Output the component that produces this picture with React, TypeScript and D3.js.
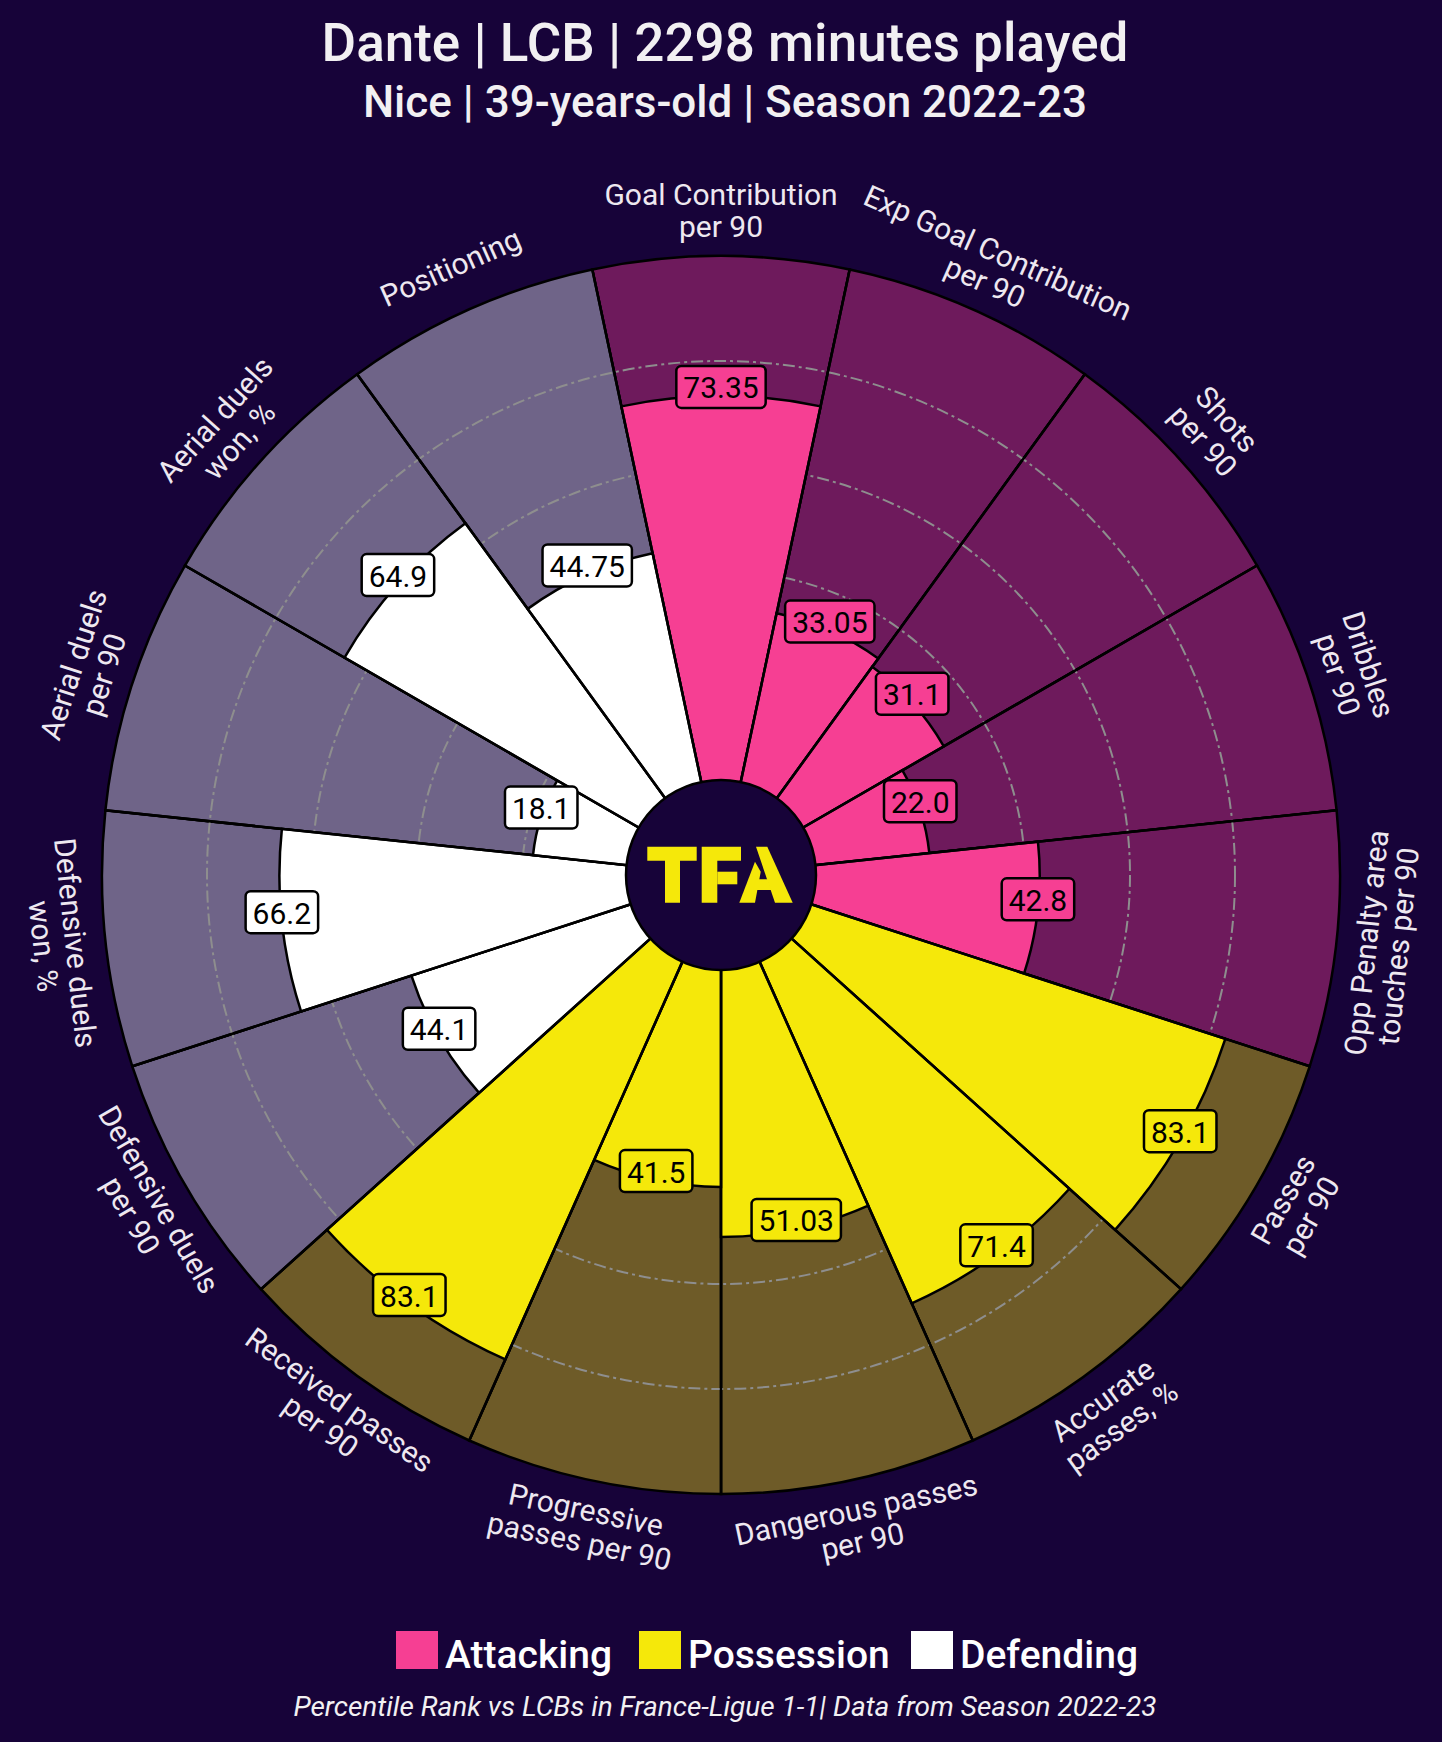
import React from "react";
import * as d3 from "d3";

// ---------- data ----------
const params: string[] = [
  "Goal Contribution\nper 90",
  "Exp Goal Contribution\nper 90",
  "Shots\nper 90",
  "Dribbles\nper 90",
  "Opp Penalty area\ntouches per 90",
  "Passes\nper 90",
  "Accurate\npasses, %",
  "Dangerous passes\nper 90",
  "Progressive\npasses per 90",
  "Received passes\nper 90",
  "Defensive duels\nper 90",
  "Defensive duels\nwon, %",
  "Aerial duels\nper 90",
  "Aerial duels\nwon, %",
  "Positioning",
];
const values: number[] = [73.35, 33.05, 31.1, 22.0, 42.8, 83.1, 71.4, 51.03, 41.5, 83.1, 44.1, 66.2, 18.1, 64.9, 44.75];
const valueLabels: string[] = ["73.35", "33.05", "31.1", "22.0", "42.8", "83.1", "71.4", "51.03", "41.5", "83.1", "44.1", "66.2", "18.1", "64.9", "44.75"];
const groupOf: number[] = [0, 0, 0, 0, 0, 1, 1, 1, 1, 1, 2, 2, 2, 2, 2];
const groupNames: string[] = ["Attacking", "Possession", "Defending"];
const sliceColors: string[] = ["#F63F93", "#F5E80A", "#FFFFFF"];
const bgColors: string[] = ["#6E1A5C", "#6E5B28", "#6F6488"];
const gridTicks: number[] = [20, 40, 60, 80];
const titleText = "Dante | LCB | 2298 minutes played";
const subtitleText = "Nice | 39-years-old | Season 2022-23";
const footerText = "Percentile Rank vs LCBs in France-Ligue 1-1| Data from Season 2022-23";

// ---------- layout ----------
const W = 1442;
const H = 1742;
const CX = 721;
const CY = 875;
const R = 619;
const R0 = 94;
const BG = "#170339";
const FONT = "Roboto, 'Noto Sans', sans-serif";
const legendX = [396, 639, 911];
const LOGO = "#F5E80A";

// logo shapes (decorative), relative to the centre
const logoPolys: [number, number][][] = [
  // T
  [[-73.7, -28.3], [-24.3, -28.3], [-24.3, -14.3], [-41, -14.3], [-41, 27.7], [-56, 27.7], [-56, -14.3], [-73.7, -14.3]],
  // F
  [[-19.3, -28.3], [20, -28.3], [20, -14.3], [-3.7, -14.3], [-3.7, 27.7], [-19.3, 27.7]],
  [[-3.7, -3.3], [16.3, -3.3], [16.3, 9.3], [-3.7, 9.3]],
  // A
  [[35, -28.3], [46.3, -28.3], [71.7, 27.7], [54, 27.7]],
  [[34, -13.3], [39.7, -3.3], [34, 27.7], [18.3, 27.7]],
  [[35, 4.3], [46.7, 4.3], [50.7, 15], [32.5, 15]],
];

let _ctx: CanvasRenderingContext2D | null = null;
function measure(text: string, font: string): number {
  if (!_ctx) {
    const c = document.createElement("canvas");
    _ctx = c.getContext("2d");
  }
  if (!_ctx) return text.length * 15;
  _ctx.font = font;
  return _ctx.measureText(text).width;
}

export default function App() {
  React.useEffect(() => {
    document.body.style.margin = "0";
    document.body.style.background = BG;
  }, []);

  const n = params.length;
  const rScale = d3.scaleLinear().domain([0, 100]).range([R0, R]);
  const aScale = d3.scaleLinear().domain([0, n]).range([0, 2 * Math.PI]);
  const arc = d3.arc<any>();
  const line = d3.line();

  const slices = params.map((p, i) => {
    const start = aScale(i - 0.5);
    const end = aScale(i + 0.5);
    const mid = aScale(i);
    return { p, i, start, end, mid, v: values[i], g: groupOf[i] };
  });

  const lineH = 32;
  const paramFont = 30;
  const valFont = 30;
  const labelR = 665;
  const valDy = -9;

  return (
    <div style={{ position: "absolute", left: 0, top: 0 }}>
      <svg width={W} height={H} style={{ display: "block", background: BG }} fontFamily={FONT}>
        <rect x={0} y={0} width={W} height={H} fill={BG} />
        {/* titles */}
        <text x={725} y={61} textAnchor="middle" fill="#F2F0F2" fontSize={53} fontWeight={500}>
          {titleText}
        </text>
        <text x={725} y={117} textAnchor="middle" fill="#F2F0F2" fontSize={44} fontWeight={500}>
          {subtitleText}
        </text>

        <g transform={`translate(${CX},${CY})`}>
          {/* background slices */}
          {slices.map((s) => (
            <path
              key={"bg" + s.i}
              d={arc({ innerRadius: R0, outerRadius: R, startAngle: s.start, endAngle: s.end }) as string}
              fill={bgColors[s.g]}
              stroke="#000"
              strokeWidth={2.5}
            />
          ))}
          {/* grid */}
          {gridTicks.map((t) => (
            <circle
              key={"grid" + t}
              r={rScale(t)}
              fill="none"
              stroke="#8E8E8E"
              strokeWidth={2}
              strokeDasharray="12 4 3 4"
            />
          ))}
          {/* bars */}
          {slices.map((s) => (
            <path
              key={"bar" + s.i}
              d={arc({ innerRadius: R0, outerRadius: rScale(s.v), startAngle: s.start, endAngle: s.end }) as string}
              fill={sliceColors[s.g]}
              stroke="#000"
              strokeWidth={2.5}
            />
          ))}
          {/* radial edges full length */}
          {slices.map((s) => (
            <line
              key={"edge" + s.i}
              x1={R0 * Math.sin(s.start)}
              y1={-R0 * Math.cos(s.start)}
              x2={R * Math.sin(s.start)}
              y2={-R * Math.cos(s.start)}
              stroke="#000"
              strokeWidth={2.5}
            />
          ))}
          {/* center circle + logo */}
          <circle r={95} fill={BG} stroke="#000" strokeWidth={2.5} />
          {logoPolys.map((pts, k) => (
            <path key={"logo" + k} d={(line(pts) as string) + "Z"} fill={LOGO} />
          ))}

          {/* value labels */}
          {slices.map((s) => {
            const r = rScale(s.v);
            const x = r * Math.sin(s.mid);
            const y = -r * Math.cos(s.mid) + valDy;
            const label = valueLabels[s.i];
            const tw = measure(label, `${valFont}px Roboto`);
            const bw = tw + 14;
            const bh = 42;
            return (
              <g key={"val" + s.i} transform={`translate(${x},${y})`}>
                <rect
                  x={-bw / 2}
                  y={-bh / 2}
                  width={bw}
                  height={bh}
                  rx={5}
                  fill={sliceColors[s.g]}
                  stroke="#000"
                  strokeWidth={2.5}
                />
                <text x={0} y={1} textAnchor="middle" dominantBaseline="central" fontSize={valFont} fill="#000">
                  {label}
                </text>
              </g>
            );
          })}

          {/* param labels */}
          {slices.map((s) => {
            const deg = (s.mid * 180) / Math.PI;
            const rot = deg <= 90 ? deg : deg <= 270 ? deg - 180 : deg - 360;
            const x = labelR * Math.sin(s.mid);
            const y = -labelR * Math.cos(s.mid);
            const lines = s.p.split("\n");
            const m = lines.length;
            return (
              <g key={"lab" + s.i} transform={`translate(${x},${y}) rotate(${rot})`}>
                {lines.map((ln, k) => (
                  <text
                    key={k}
                    x={0}
                    y={(k - (m - 1) / 2) * lineH}
                    textAnchor="middle"
                    dominantBaseline="central"
                    fontSize={paramFont}
                    fill="#EEE8F0"
                  >
                    {ln}
                  </text>
                ))}
              </g>
            );
          })}
        </g>

        {/* legend */}
        {groupNames.map((g, k) => (
          <g key={"leg" + g}>
            <rect x={legendX[k]} y={1631} width={42} height={38} fill={sliceColors[k]} />
            <text x={legendX[k] + 49} y={1668} fontSize={39} fontWeight={500} fill="#FFFFFF">
              {g}
            </text>
          </g>
        ))}
        <text x={725} y={1716} textAnchor="middle" fontSize={28} fontStyle="italic" fill="#F2F0F2">
          {footerText}
        </text>
      </svg>
    </div>
  );
}
